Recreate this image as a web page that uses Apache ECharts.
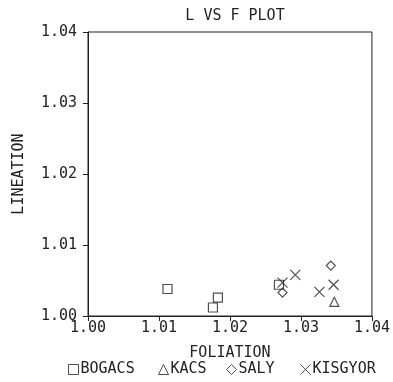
<!DOCTYPE html>
<html>
<head>
<meta charset="utf-8">
<script src="https://cdn.jsdelivr.net/npm/echarts@6/dist/echarts.min.js"></script>
<style>html,body{margin:0;padding:0;background:#fff}#c{width:393px;height:382px}</style>
</head>
<body>
<div id="c"></div>
<script>
const title = 'L VS F PLOT';
const xName = 'FOLIATION';
const yName = 'LINEATION';
const seriesNames = ['BOGACS', 'KACS', 'SALY', 'KISGYOR'];
const bogacs = [[1.0112, 1.0038], [1.0183, 1.0026], [1.0176, 1.0012], [1.0269, 1.0044]];
const kacs = [[1.0347, 1.0020]];
const saly = [[1.0274, 1.0033], [1.0342, 1.0071]];
const kisgyor = [[1.0274, 1.0047], [1.0292, 1.0058], [1.0326, 1.0034], [1.0346, 1.0044]];
const axisMin = 1.00, axisMax = 1.04, axisStep = 0.01;

const ink = '#222';
const font = 'DejaVu Sans Mono';
const xPath = 'path://M0,0L10,10M10,0L0,10';
const symbols = ['rect', 'triangle', 'diamond', xPath];
const sizes = [9, 9, 9, 10];
const datasets = [bogacs, kacs, saly, kisgyor];
const legendLeft = [63, 153, 221, 295];

const chart = echarts.init(document.getElementById('c'));
chart.setOption({
  animation: false,
  backgroundColor: '#fff',
  title: {
    text: title, left: 230, top: 4, textAlign: 'center',
    textStyle: {fontFamily: font, fontSize: 15, fontWeight: 'normal', color: ink}
  },
  grid: {left: 88, right: 18, top: 32, bottom: 66, show: true, borderColor: ink, borderWidth: 1, backgroundColor: 'transparent'},
  xAxis: {
    type: 'value', min: axisMin, max: axisMax, interval: axisStep,
    name: xName, nameLocation: 'middle', nameGap: 30,
    nameTextStyle: {fontFamily: font, fontSize: 15, color: ink},
    axisLine: {lineStyle: {color: ink}},
    axisTick: {show: true, inside: false, length: 5, lineStyle: {color: ink}},
    splitLine: {show: false},
    axisLabel: {fontFamily: font, fontSize: 15, color: ink, margin: 5, formatter: v => v.toFixed(2)}
  },
  yAxis: {
    type: 'value', min: axisMin, max: axisMax, interval: axisStep,
    name: yName, nameLocation: 'middle', nameGap: 61, nameRotate: 90,
    nameTextStyle: {fontFamily: font, fontSize: 15, color: ink},
    axisLine: {show: true, lineStyle: {color: ink}},
    axisTick: {show: true, inside: false, length: 5, lineStyle: {color: ink}},
    splitLine: {show: false},
    axisLabel: {fontFamily: font, fontSize: 15, color: ink, margin: 11, formatter: v => v.toFixed(2)}
  },
  legend: seriesNames.map((n, i) => ({
    bottom: 0, left: legendLeft[i], itemWidth: 10, itemHeight: 10,
    itemStyle: {color: 'rgba(255,255,255,0)', borderColor: ink, borderWidth: 1},
    textStyle: {fontFamily: font, fontSize: 15, color: ink, padding: [0, 0, 0, -3]},
    data: [{name: n, icon: symbols[i]}]
  })),
  series: seriesNames.map((n, i) => ({
    name: n, type: 'scatter', data: datasets[i],
    symbol: symbols[i], symbolSize: sizes[i],
    itemStyle: {color: 'rgba(255,255,255,0)', borderColor: ink, borderWidth: 1.2}
  }))
});
</script>
</body>
</html>
